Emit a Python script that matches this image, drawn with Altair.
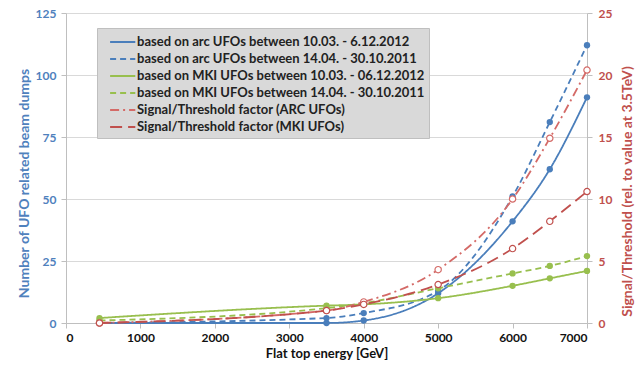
import altair as alt
import pandas as pd

energy = [450, 3500, 4000, 5000, 6000, 6500, 7000]
arc_2012 = [0, 0, 1, 12, 41, 62, 91]
arc_2011 = [0, 2, 4, 13, 51, 81, 112]
mki_2012 = [2, 7, 7.5, 10, 15, 18, 21]
mki_2011 = [1, 6, 8, 14, 20, 23, 27]
sig_arc = [0.0, 1.0, 1.7, 4.3, 10.0, 14.9, 20.4]
sig_mki = [0.0, 1.0, 1.5, 3.1, 6.0, 8.2, 10.6]

names = [
    "based on arc UFOs between 10.03. - 6.12.2012",
    "based on arc UFOs between 14.04. - 30.10.2011",
    "based on MKI UFOs between 10.03. - 06.12.2012",
    "based on MKI UFOs between 14.04. - 30.10.2011",
    "Signal/Threshold factor (ARC UFOs)",
    "Signal/Threshold factor (MKI UFOs)",
]
colors = ["#4A7EBB", "#4A7EBB", "#98BF4E", "#98BF4E", "#D46A67", "#C0504D"]
dashes = [[1, 0], [6, 4], [1, 0], [6, 4], [9, 4, 2, 4], [12, 6]]

left_rows = []
for name, vals in zip(names[:4], [arc_2012, arc_2011, mki_2012, mki_2011]):
    for e, v in zip(energy, vals):
        left_rows.append({"energy": e, "value": v, "series": name})
right_rows = []
for name, vals in zip(names[4:], [sig_arc, sig_mki]):
    for e, v in zip(energy, vals):
        right_rows.append({"energy": e, "value": v, "series": name})
df_left = pd.DataFrame(left_rows)
df_right = pd.DataFrame(right_rows)

FONT = "Lato"
legend = alt.Legend(
    orient="none", legendX=31, legendY=15, direction="vertical",
    fillColor="#D9D9D9", strokeColor="#BFBFBF", padding=4,
    symbolType="M-0.1,0H2.7", symbolSize=324, symbolStrokeWidth=2,
    labelFont=FONT, labelFontSize=13, labelFontWeight="bold", labelColor="#222222",
    labelLimit=400, rowPadding=0, labelOffset=16,
)
color_scale = alt.Scale(domain=names, range=colors)
dash_scale = alt.Scale(domain=names, range=dashes)

x_enc = alt.X("energy:Q", scale=alt.Scale(domain=[0, 7000], nice=False),
              axis=alt.Axis(values=list(range(0, 7001, 1000)), format="d", title="Flat top energy [GeV]",
                            grid=False, labelFontWeight="bold", labelColor="#111111",
                            labelFontSize=12, titleFontSize=13, titleFontWeight="bold",
                            titleColor="#111111", domainColor="#BFBFBF", tickColor="#BFBFBF",
                            tickSize=5, labelPadding=4, titlePadding=4, labelFont=FONT, titleFont=FONT))

yl = alt.Y("value:Q", scale=alt.Scale(domain=[0, 125], nice=False),
           axis=alt.Axis(values=[0, 25, 50, 75, 100, 125], title="Number of UFO related beam dumps",
                         grid=True, gridColor="#D9D9D9", labelFontWeight="bold", labelColor="#4F81BD",
                         titleColor="#4F81BD", labelFontSize=12, titleFontSize=14, titleFontWeight="bold",
                         domainColor="#BFBFBF", tickColor="#BFBFBF", tickSize=5, labelPadding=5,
                         titleX=-42, titleY=170, titleAngle=270, titleAlign="center",
                         titleBaseline="middle", labelFont=FONT, titleFont=FONT))
yr = alt.Y("value:Q", scale=alt.Scale(domain=[0, 25], nice=False),
           axis=alt.Axis(orient="right", values=[0, 5, 10, 15, 20, 25],
                         title="Signal/Threshold (rel. to value at 3.5TeV)",
                         grid=False, labelFontWeight="bold", labelColor="#C0504D",
                         titleColor="#C0504D", labelFontSize=12, titleFontSize=14, titleFontWeight="bold",
                         domainColor="#BFBFBF", tickColor="#BFBFBF", tickSize=5, labelPadding=6,
                         titleX=40, titleY=178, titleAngle=270, titleAlign="center",
                         titleBaseline="middle", labelFont=FONT, titleFont=FONT))

color_l = alt.Color("series:N", scale=color_scale, legend=legend, title=None)
dash_l = alt.StrokeDash("series:N", scale=dash_scale, legend=legend, title=None)
color_np = alt.Color("series:N", scale=color_scale, legend=None)

left_lines = alt.Chart(df_left).mark_line(interpolate="monotone", strokeWidth=1.8).encode(
    x=x_enc, y=yl, color=color_l, strokeDash=dash_l)
left_pts = alt.Chart(df_left).mark_circle(size=40, opacity=1).encode(
    x=x_enc, y=yl, color=color_np)
right_lines = alt.Chart(df_right).mark_line(interpolate="monotone", strokeWidth=1.8).encode(
    x=x_enc, y=yr, color=color_l, strokeDash=dash_l)
right_pts = alt.Chart(df_right).mark_point(shape="circle", size=40, filled=False, fill="white",
                                            fillOpacity=1, strokeWidth=1.2, opacity=1).encode(
    x=x_enc, y=yr, color=color_np)

left = alt.layer(left_lines, left_pts)
right = alt.layer(right_lines, right_pts)

chart = alt.layer(left, right).resolve_scale(y="independent").properties(
    width=521, height=310,
    autosize=alt.AutoSizeParams(type="none"),
    padding={"left": 66, "top": 13, "right": 54, "bottom": 47},
    background="white",
).configure_view(strokeWidth=0)

chart.save("out.html", embed_options={"renderer": "svg", "actions": False})
